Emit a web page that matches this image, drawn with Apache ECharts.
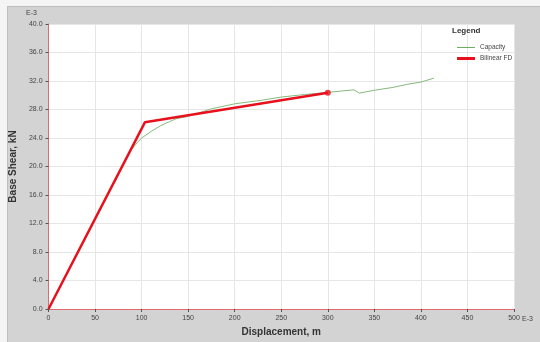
<!DOCTYPE html>
<html>
<head>
<meta charset="utf-8">
<script src="https://cdn.jsdelivr.net/npm/echarts@6/dist/echarts.min.js"></script>
<style>
  html, body { margin: 0; padding: 0; background: #fff; }
  #chart { width: 540px; height: 342px; }
</style>
</head>
<body>
<div id="chart"></div>
<script>
// Pushover capacity curve and its bilinear idealisation (values in E-3 units)
var capacityDisp  = [0, 88, 95, 100, 110, 120, 130, 137, 149, 175, 200, 229, 250, 275, 300, 315, 328, 334, 350, 370, 386, 400, 414];
var capacityShear = [0, 22.2, 23.3, 24.0, 24.9, 25.7, 26.3, 26.7, 27.0, 28.1, 28.8, 29.3, 29.75, 30.1, 30.4, 30.6, 30.76, 30.3, 30.7, 31.1, 31.55, 31.85, 32.4];

var bilinearDisp  = [0, 103.5, 300];
var bilinearShear = [0, 26.2, 30.35];

var xTicks = { min: 0, max: 500, step: 50 };
var yTicks = { min: 0, max: 40, step: 4 };

function pairs(xs, ys) {
  return xs.map(function (x, i) { return [x, ys[i]]; });
}

// legend swatches: plain line strokes of different weight inside an 18x7 box
var thinSwatch  = 'path://M0,0L0,0M0,3L18,3L18,4L0,4ZM18,7L18,7';
var thickSwatch = 'path://M0,0L0,0M0,2L18,2L18,5L0,5ZM18,7L18,7';

var chart = echarts.init(document.getElementById('chart'), null, { renderer: 'canvas' });
var labelFont = { color: '#444', fontSize: 7, fontFamily: 'Liberation Sans, Arial, sans-serif' };

chart.setOption({
  animation: false,
  backgroundColor: '#d3d3d3',
  graphic: [
    { type: 'rect', shape: { x: 0, y: 0, width: 540, height: 6 }, style: { fill: '#f4f4f4' }, z: -1 },
    { type: 'rect', shape: { x: 0, y: 0, width: 7, height: 342 }, style: { fill: '#f4f4f4' }, z: -1 },
    { type: 'line', shape: { x1: 7.5, y1: 6, x2: 7.5, y2: 342 }, style: { stroke: '#bdbdbd', lineWidth: 1 }, z: -1 },
    { type: 'line', shape: { x1: 7, y1: 6.5, x2: 540, y2: 6.5 }, style: { stroke: '#bdbdbd', lineWidth: 1 }, z: -1 },
    { type: 'text', left: 26, top: 10, style: { text: 'E-3', fill: '#444', font: '7px "Liberation Sans", Arial, sans-serif' } },
    { type: 'text', left: 522, top: 316, style: { text: 'E-3', fill: '#444', font: '7px "Liberation Sans", Arial, sans-serif' } },
    { type: 'text', left: 452, top: 27, style: { text: 'Legend', fill: '#333', font: 'bold 8px "Liberation Sans", Arial, sans-serif' }, z: 10 }
  ],
  grid: {
    left: 43, right: 26, top: 24, bottom: 31,
    show: true, backgroundColor: '#ffffff', borderWidth: 0
  },
  legend: {
    left: 452, top: 39, orient: 'vertical',
    itemWidth: 18, itemHeight: 7, itemGap: 4,
    textStyle: { color: '#444', fontSize: 6.5, fontFamily: 'Liberation Sans, Arial, sans-serif' },
    data: [
      { name: 'Capacity', icon: thinSwatch, itemStyle: { color: '#6fae62' } },
      { name: 'Bilinear FD', icon: thickSwatch, itemStyle: { color: '#e8101c' } }
    ]
  },
  xAxis: {
    type: 'value', min: xTicks.min, max: xTicks.max, interval: xTicks.step,
    name: 'Displacement, m', nameLocation: 'middle', nameGap: 18,
    nameTextStyle: { fontWeight: 'bold', fontSize: 10, color: '#333', fontFamily: 'Liberation Sans, Arial, sans-serif' },
    axisLine: { show: true, lineStyle: { color: '#e06a70', width: 1 } },
    axisTick: { show: true, length: 3, lineStyle: { color: '#555' } },
    axisLabel: Object.assign({ margin: 6 }, labelFont),
    splitLine: { show: true, lineStyle: { color: '#e6e6e6' } }
  },
  yAxis: {
    type: 'value', min: yTicks.min, max: yTicks.max, interval: yTicks.step,
    name: 'Base Shear, kN', nameLocation: 'middle', nameGap: 21,
    nameTextStyle: { fontWeight: 'bold', fontSize: 10, color: '#333', fontFamily: 'Liberation Sans, Arial, sans-serif' },
    axisLine: { show: true, lineStyle: { color: '#e06a70', width: 1 } },
    axisTick: { show: true, length: 3, lineStyle: { color: '#555' } },
    axisLabel: Object.assign({ margin: 6, formatter: function (v) { return v.toFixed(1); } }, labelFont),
    splitLine: { show: true, lineStyle: { color: '#e6e6e6' } }
  },
  series: [
    {
      name: 'Capacity', type: 'line', data: pairs(capacityDisp, capacityShear),
      symbol: 'none', lineStyle: { color: '#86b97c', width: 1 }, itemStyle: { color: '#86b97c' }, z: 3
    },
    {
      name: 'Bilinear FD', type: 'line', data: pairs(bilinearDisp, bilinearShear),
      symbol: 'none', lineStyle: { color: '#e8101c', width: 2.5 }, itemStyle: { color: '#e8101c' }, z: 4
    },
    {
      name: 'Performance point', type: 'scatter', data: [[bilinearDisp[2], bilinearShear[2]]],
      symbolSize: 6, itemStyle: { color: '#e8101c' }, z: 5
    }
  ]
});
</script>
</body>
</html>
